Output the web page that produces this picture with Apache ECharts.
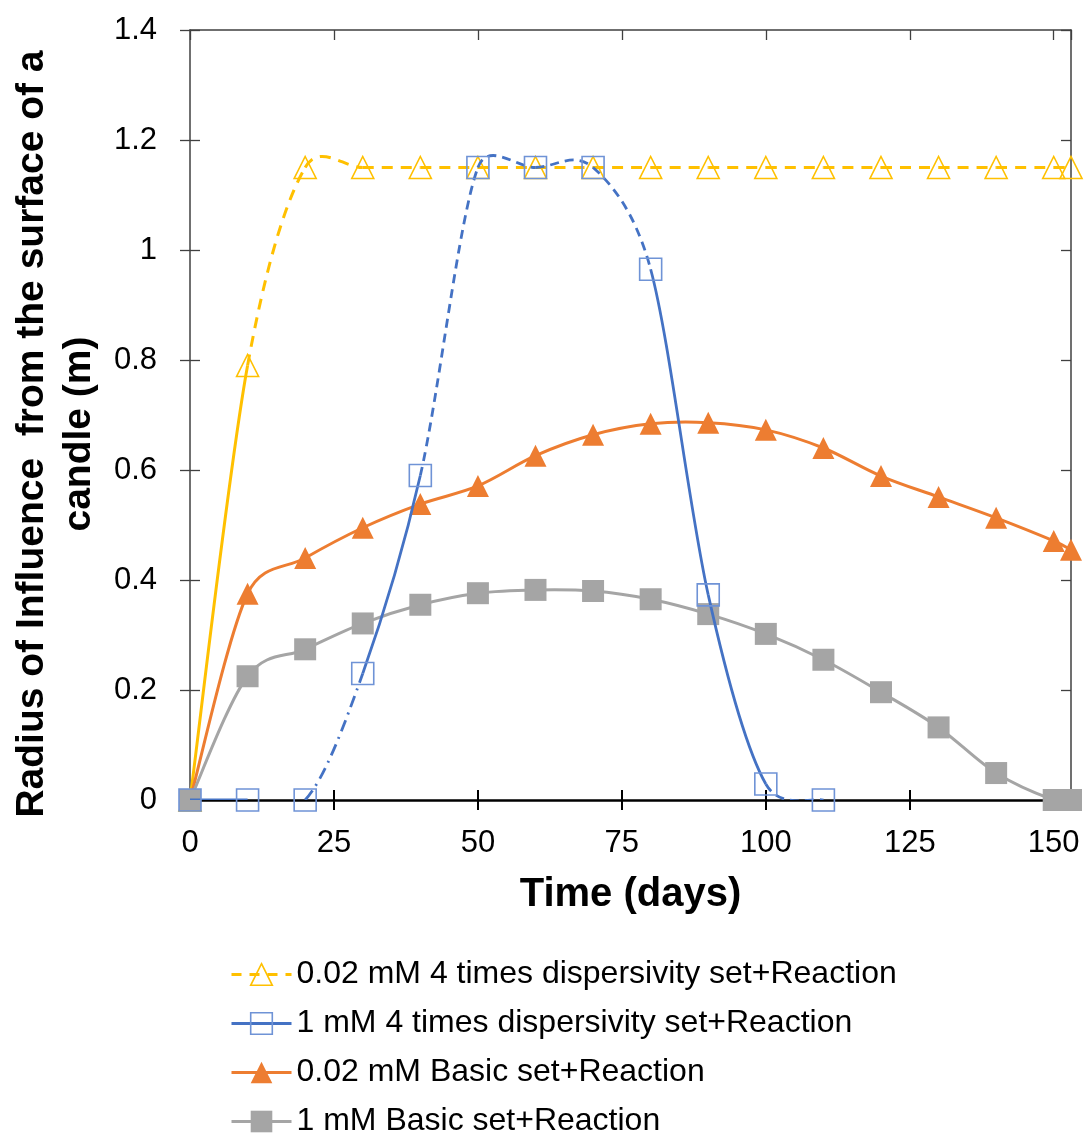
<!DOCTYPE html>
<html>
<head>
<meta charset="utf-8">
<script src="https://cdn.jsdelivr.net/npm/echarts@6/dist/echarts.min.js"></script>
<style>
html,body{margin:0;padding:0;background:#fff;}
#chart{width:1088px;height:1133px;}
</style>
</head>
<body>
<div id="chart"></div>
<script>
// ---------------- data ----------------
const days = [0, 10, 20, 30, 40, 50, 60, 70, 80, 90, 100, 110, 120, 130, 140, 150, 153];
const yellowValues = [0, 0.79, 1.15, 1.15, 1.15, 1.15, 1.15, 1.15, 1.15, 1.15, 1.15, 1.15, 1.15, 1.15, 1.15, 1.15, 1.15];
const blueDays = [0, 10, 20, 30, 40, 50, 60, 70, 80, 90, 100, 110];
const blueValues = [0, 0, 0, 0.23, 0.59, 1.15, 1.15, 1.15, 0.965, 0.373, 0.029, 0];
const orangeValues = [0, 0.375, 0.44, 0.495, 0.538, 0.571, 0.626, 0.664, 0.684, 0.686, 0.673, 0.64, 0.589, 0.551, 0.513, 0.471, 0.455];
const grayValues = [0, 0.225, 0.274, 0.321, 0.355, 0.376, 0.382, 0.38, 0.365, 0.338, 0.302, 0.255, 0.196, 0.132, 0.049, 0, 0];
const xTickLabels = [0, 25, 50, 75, 100, 125, 150];
const yTickLabels = [0, 0.2, 0.4, 0.6, 0.8, 1, 1.2, 1.4];
const seriesNames = [
  '0.02 mM 4 times dispersivity set+Reaction',
  '1 mM 4 times dispersivity set+Reaction',
  '0.02 mM Basic set+Reaction',
  '1 mM Basic set+Reaction'
];
// line style of each segment between consecutive points
const yellowSegments = ['solid', 'dash', 'dash', 'dash', 'dash', 'dash', 'dash', 'dash', 'dash', 'dash', 'dash', 'dash', 'dash', 'dash', 'dash', 'dash'];
const blueSegments = ['solid', 'none', 'dashdot', 'solid', 'dash', 'dash', 'dash', 'dash', 'solid', 'solid', 'dash'];
const orangeSegments = days.slice(1).map(function () { return 'solid'; });
const graySegments = days.slice(1).map(function () { return 'solid'; });

// ---------------- styles ----------------
const FONT = '"Liberation Sans", Arial, Helvetica, sans-serif';
const YELLOW = '#FFC000', BLUE = '#4472C4', ORANGE = '#ED7D31', GRAY = '#A5A5A5';
const BLUE_MARK = '#6F93D6';
const yellowDash = {solid: null, dash: [11, 8]};
const blueDash = {solid: null, dash: [9, 6], dashdot: [12, 6, 2, 6]};
const plainDash = {solid: null};

// segment items: previous point, start, end, next point (for spline tangents)
function segmentItems(xs, ys, segs) {
  const items = [], styles = [];
  const n = xs.length;
  for (let i = 0; i < n - 1; i++) {
    if (segs[i] === 'none') continue;
    const a = Math.max(i - 1, 0), b = Math.min(i + 2, n - 1);
    items.push([xs[a], ys[a], xs[i], ys[i], xs[i + 1], ys[i + 1], xs[b], ys[b]]);
    styles.push(segs[i]);
  }
  return {items: items, styles: styles};
}

// smoothed curve (Excel-like bezier spline) drawn through the chart's own coordinate system
function curveSeries(name, xs, ys, segs, color, width, dashMap, z) {
  const seg = segmentItems(xs, ys, segs);
  return {
    type: 'custom', name: name, coordinateSystem: 'cartesian2d', z: z, silent: true, clip: true,
    data: seg.items,
    encode: {x: [0, 2, 4, 6], y: [1, 3, 5, 7]},
    renderItem: function (params, api) {
      const P = [0, 1, 2, 3].map(function (k) { return api.coord([api.value(2 * k), api.value(2 * k + 1)]); });
      const dist = function (p, q) { return Math.hypot(p[0] - q[0], p[1] - q[1]); };
      const d12 = dist(P[1], P[2]), d02 = dist(P[0], P[2]), d13 = dist(P[1], P[3]);
      const f1 = d02 > 0 ? Math.min(1 / 6, d12 / (2 * d02)) : 0;
      const f2 = d13 > 0 ? Math.min(1 / 6, d12 / (2 * d13)) : 0;
      const st = seg.styles[params.dataIndex];
      return {
        type: 'bezierCurve',
        shape: {
          x1: P[1][0], y1: P[1][1], x2: P[2][0], y2: P[2][1],
          cpx1: P[1][0] + f1 * (P[2][0] - P[0][0]), cpy1: P[1][1] + f1 * (P[2][1] - P[0][1]),
          cpx2: P[2][0] - f2 * (P[3][0] - P[1][0]), cpy2: P[2][1] - f2 * (P[3][1] - P[1][1])
        },
        style: {stroke: color, lineWidth: width, lineDash: dashMap[st], fill: null, lineCap: 'butt'}
      };
    }
  };
}

function pairs(xs, ys) {
  return xs.map(function (x, i) { return [x, ys[i]]; });
}
function markerSeries(name, xs, ys, symbol, fill, border, z) {
  return {
    type: 'line', name: name, data: pairs(xs, ys),
    showSymbol: true, showAllSymbol: true, symbol: symbol, symbolSize: 22, z: z, silent: true,
    lineStyle: {opacity: 0, width: 0},
    itemStyle: {color: fill, borderColor: border, borderWidth: border ? 1.6 : 0}
  };
}

const series = [
  markerSeries(seriesNames[0], days, yellowValues, 'triangle', 'rgba(0,0,0,0)', YELLOW, 3),
  markerSeries(seriesNames[1], blueDays, blueValues, 'rect', 'rgba(0,0,0,0)', BLUE_MARK, 9),
  markerSeries(seriesNames[2], days, orangeValues, 'triangle', ORANGE, null, 5),
  markerSeries(seriesNames[3], days, grayValues, 'rect', GRAY, null, 7),
  curveSeries(seriesNames[0], days, yellowValues, yellowSegments, YELLOW, 3, yellowDash, 2),
  curveSeries(seriesNames[2], days, orangeValues, orangeSegments, ORANGE, 3, plainDash, 4),
  curveSeries(seriesNames[3], days, grayValues, graySegments, GRAY, 3, plainDash, 6),
  curveSeries(seriesNames[1], blueDays, blueValues, blueSegments, BLUE, 2.8, blueDash, 8)
];

const xMin = xTickLabels[0];
const xInterval = xTickLabels[1] - xTickLabels[0];
const xMax = days[days.length - 1];
const yMin = yTickLabels[0];
const yInterval = 0.2;
const yMax = yTickLabels[yTickLabels.length - 1];

const baseX = {type: 'value', min: xMin, max: xMax, interval: xInterval, splitLine: {show: false}};
const baseY = {type: 'value', min: yMin, max: yMax, interval: yInterval, splitLine: {show: false}};

const option = {
  animation: false,
  backgroundColor: '#fff',
  grid: {left: 190, right: 17, top: 30, bottom: 333, containLabel: false},
  xAxis: [
    Object.assign({}, baseX, {
      position: 'bottom',
      axisLine: {show: true, onZero: false, lineStyle: {color: '#000', width: 2.5}},
      axisTick: {show: true, inside: false, length: 10, lineStyle: {color: '#000', width: 2}},
      axisLabel: {show: true, margin: 28, fontSize: 31, color: '#000', fontFamily: FONT,
        formatter: function (v) { return xTickLabels.indexOf(v) >= 0 ? String(v) : ''; }},
      name: 'Time (days)', nameLocation: 'middle', nameGap: 75,
      nameTextStyle: {fontSize: 40, fontWeight: 'bold', color: '#000', fontFamily: FONT}
    }),
    Object.assign({}, baseX, {
      position: 'bottom',
      axisLine: {show: false},
      axisTick: {show: true, inside: true, length: 10, lineStyle: {color: '#000', width: 2}},
      axisLabel: {show: false}
    }),
    Object.assign({}, baseX, {
      position: 'top',
      axisLine: {show: true, onZero: false, lineStyle: {color: '#404040', width: 1.5}},
      axisTick: {show: true, inside: true, length: 10, lineStyle: {color: '#404040', width: 1.3}},
      axisLabel: {show: false}
    })
  ],
  yAxis: [
    Object.assign({}, baseY, {
      position: 'left',
      axisLine: {show: true, onZero: false, lineStyle: {color: '#404040', width: 1.5}},
      axisTick: {show: true, inside: false, length: 10, lineStyle: {color: '#404040', width: 1.3}},
      axisLabel: {show: true, margin: 33, fontSize: 31, color: '#000', fontFamily: FONT}
    }),
    Object.assign({}, baseY, {
      position: 'left',
      axisLine: {show: false},
      axisTick: {show: true, inside: true, length: 10, lineStyle: {color: '#404040', width: 1.3}},
      axisLabel: {show: false}
    }),
    Object.assign({}, baseY, {
      position: 'right',
      axisLine: {show: true, onZero: false, lineStyle: {color: '#404040', width: 1.5}},
      axisTick: {show: true, inside: true, length: 10, lineStyle: {color: '#404040', width: 1.3}},
      axisLabel: {show: false}
    })
  ],
  legend: {
    orient: 'vertical', left: 225, top: 953, height: 240, itemWidth: 60, itemHeight: 27, itemGap: 16,
    selectedMode: false,
    textStyle: {fontSize: 32, fontFamily: FONT, color: '#000', lineHeight: 33},
    data: [
      {name: seriesNames[0],
       itemStyle: {color: 'rgba(0,0,0,0)', borderColor: YELLOW, borderWidth: 1.6},
       lineStyle: {color: YELLOW, width: 3, type: [10, 8], opacity: 1}},
      {name: seriesNames[1],
       itemStyle: {color: 'rgba(0,0,0,0)', borderColor: BLUE_MARK, borderWidth: 1.6},
       lineStyle: {color: BLUE, width: 3, type: 'solid', opacity: 1}},
      {name: seriesNames[2],
       itemStyle: {color: ORANGE, borderWidth: 0},
       lineStyle: {color: ORANGE, width: 3, type: 'solid', opacity: 1}},
      {name: seriesNames[3],
       itemStyle: {color: GRAY, borderWidth: 0},
       lineStyle: {color: GRAY, width: 3, type: 'solid', opacity: 1}}
    ]
  },
  graphic: [{
    type: 'text', x: 56, y: 434, rotation: Math.PI / 2, silent: true,
    style: {
      text: 'Radius of Influence  from the surface of a\ncandle (m)',
      fontSize: 39, fontWeight: 'bold', fontFamily: FONT, fill: '#000',
      align: 'center', verticalAlign: 'middle', lineHeight: 47
    }
  }],
  series: series
};

const chart = echarts.init(document.getElementById('chart'), null, {renderer: 'canvas'});
chart.setOption(option);
</script>
</body>
</html>
